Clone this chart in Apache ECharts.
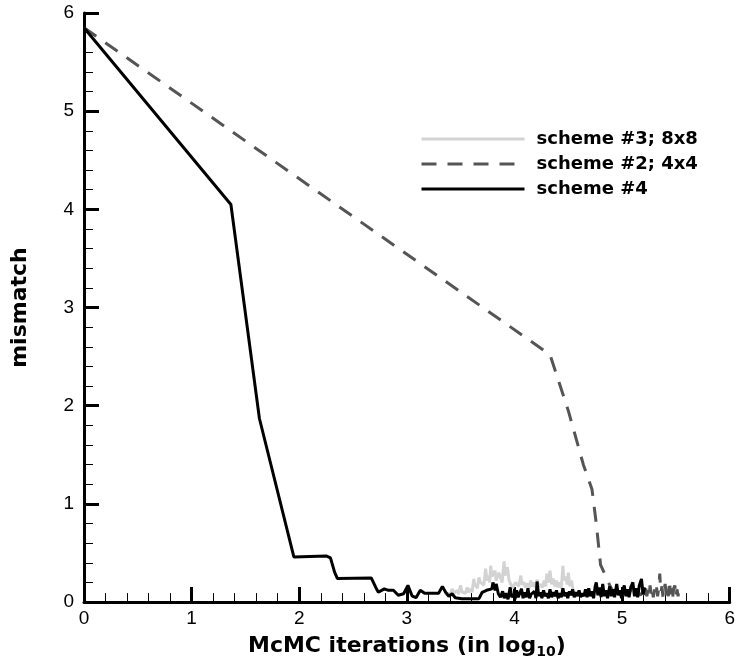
<!DOCTYPE html>
<html>
<head>
<meta charset="utf-8">
<script src="https://cdn.jsdelivr.net/npm/echarts@6/dist/echarts.min.js"></script>
<style>
  html, body { margin: 0; padding: 0; background: #fff; }
  #chart { width: 738px; height: 664px; }
</style>
</head>
<body>
<div id="chart"></div>
<script>
// scheme #4 (solid black)
var scheme4X = [0, 1.365, 1.63, 1.95, 2.25, 2.29, 2.33, 2.355, 2.67, 2.72, 2.735, 2.79, 2.83, 2.875, 2.92, 2.97, 3.01, 3.05, 3.085, 3.125, 3.165, 3.25, 3.295, 3.33, 3.36, 3.39, 3.42, 3.45, 3.51, 3.61, 3.67, 3.70, 3.74, 3.79, 3.80, 3.82, 3.83, 3.85,
  3.87, 3.89, 3.905, 3.92, 3.94, 3.96, 3.975, 3.99, 4.005, 4.02, 4.035, 4.05, 4.065, 4.08, 4.095, 4.11, 4.125, 4.14, 4.155, 4.17, 4.185, 4.2, 4.21, 4.225, 4.24, 4.255, 4.27, 4.285, 4.3, 4.315, 4.33, 4.345, 4.36, 4.375, 4.39, 4.405, 4.42, 4.435, 4.45, 4.465, 4.48, 4.495, 4.51, 4.525, 4.54, 4.555, 4.57, 4.585, 4.6, 4.615, 4.63, 4.645, 4.66, 4.675, 4.69, 4.705, 4.72, 4.735, 4.75, 4.76, 4.775, 4.79, 4.805, 4.82, 4.835, 4.85, 4.865, 4.885, 4.9, 4.915, 4.93, 4.95, 4.965, 4.98, 4.995, 5.02, 5.035, 5.05, 5.065, 5.08, 5.1, 5.115, 5.13, 5.145, 5.16, 5.18, 5.195, 5.21];
var scheme4Y = [5.85, 4.05, 1.87, 0.46, 0.47, 0.45, 0.30, 0.24, 0.245, 0.13, 0.10, 0.135, 0.12, 0.12, 0.07, 0.085, 0.17, 0.06, 0.045, 0.12, 0.09, 0.09, 0.09, 0.16, 0.10, 0.06, 0.085, 0.045, 0.035, 0.035, 0.035, 0.10, 0.12, 0.135, 0.20, 0.12, 0.185, 0.085,
  0.05, 0.11, 0.04, 0.09, 0.03, 0.15, 0.05, 0.08, 0.03, 0.12, 0.05, 0.09, 0.135, 0.04, 0.10, 0.05, 0.14, 0.04, 0.08, 0.06, 0.11, 0.04, 0.21, 0.06, 0.10, 0.04, 0.12, 0.06, 0.09, 0.04, 0.13, 0.05, 0.10, 0.06, 0.12, 0.04, 0.09, 0.05, 0.14, 0.06, 0.10, 0.04, 0.11, 0.07, 0.13, 0.05, 0.10, 0.06, 0.12, 0.05, 0.09, 0.06, 0.13, 0.05, 0.14, 0.06, 0.11, 0.04, 0.16, 0.20, 0.07, 0.15, 0.05, 0.185, 0.06, 0.12, 0.04, 0.16, 0.06, 0.13, 0.05, 0.185, 0.07, 0.12, 0.04, 0.17, 0.06, 0.13, 0.05, 0.15, 0.20, 0.06, 0.14, 0.05, 0.17, 0.235, 0.08, 0.15];

// scheme #2; 4x4 (dashed dark grey)
var scheme2X = [0, 4.33, 4.5, 4.64, 4.72, 4.76, 4.8, 4.89, 4.93, 4.96, 4.99, 5.02, 5.05, 5.08, 5.11, 5.14, 5.17, 5.2, 5.21, 5.22, 5.23, 5.24, 5.25, 5.26, 5.27, 5.28, 5.29, 5.30, 5.31, 5.32, 5.33, 5.34, 5.35, 5.36, 5.37, 5.38, 5.39, 5.40, 5.41, 5.42, 5.43, 5.44, 5.45, 5.46, 5.47, 5.48, 5.49, 5.50, 5.51, 5.52, 5.53, 5.54];
var scheme2Y = [5.85, 2.52, 1.95, 1.4, 1.15, 0.8, 0.38, 0.16, 0.08, 0.12, 0.06, 0.10, 0.07, 0.12, 0.06, 0.10, 0.07, 0.12, 0.05, 0.14, 0.06, 0.12, 0.05, 0.17, 0.06, 0.12, 0.05, 0.13, 0.07, 0.15, 0.06, 0.14, 0.29, 0.10, 0.16, 0.05, 0.13, 0.185, 0.07, 0.15, 0.06, 0.22, 0.08, 0.15, 0.05, 0.14, 0.17, 0.05, 0.13, 0.06, 0.14, 0.15];

// scheme #3; 8x8 (light grey)
var scheme3X = [3.37, 3.39, 3.405, 3.42, 3.44, 3.467, 3.48, 3.498, 3.515, 3.53, 3.545, 3.561, 3.575, 3.592, 3.605, 3.623, 3.632, 3.639, 3.655, 3.67, 3.685, 3.70, 3.715, 3.732, 3.745, 3.757, 3.77, 3.779, 3.79, 3.80, 3.819, 3.83, 3.841, 3.855, 3.872, 3.885, 3.903, 3.912, 3.919, 3.935, 3.95, 3.966, 3.98, 3.997, 4.01, 4.028, 4.04, 4.059, 4.07, 4.09, 4.10, 4.12, 4.135, 4.15, 4.165, 4.18, 4.195, 4.21, 4.22, 4.24, 4.26, 4.275, 4.29, 4.30, 4.315, 4.33, 4.345, 4.36, 4.375, 4.39, 4.405, 4.42, 4.435, 4.45, 4.46, 4.475, 4.49, 4.50, 4.515, 4.53, 4.545, 4.56];
var scheme3Y = [0.06, 0.095, 0.07, 0.135, 0.09, 0.12, 0.08, 0.17, 0.10, 0.12, 0.09, 0.15, 0.10, 0.135, 0.10, 0.235, 0.16, 0.185, 0.14, 0.25, 0.20, 0.22, 0.17, 0.34, 0.22, 0.27, 0.20, 0.37, 0.26, 0.28, 0.32, 0.22, 0.21, 0.30, 0.29, 0.20, 0.415, 0.27, 0.28, 0.355, 0.22, 0.18, 0.14, 0.15, 0.20, 0.22, 0.16, 0.27, 0.18, 0.20, 0.15, 0.19, 0.14, 0.22, 0.16, 0.20, 0.15, 0.23, 0.16, 0.18, 0.15, 0.22, 0.16, 0.29, 0.20, 0.32, 0.18, 0.24, 0.16, 0.22, 0.15, 0.20, 0.14, 0.37, 0.22, 0.26, 0.18, 0.30, 0.16, 0.22, 0.12, 0.10];

var axisTicks = [0, 1, 2, 3, 4, 5, 6];
var legendNames = ['scheme #3; 8x8', 'scheme #2; 4x4', 'scheme #4'];

function pairs(xs, ys) {
  var out = [];
  for (var i = 0; i < xs.length; i++) out.push([xs[i], ys[i]]);
  return out;
}

var myChart = echarts.init(document.getElementById('chart'));

var boldFont = '"DejaVu Sans", sans-serif';
var tickFont = '"Liberation Sans", Arial, sans-serif';

function axisCommon() {
  return {
    type: 'value',
    min: axisTicks[0],
    max: axisTicks[axisTicks.length - 1],
    interval: 1,
    axisLine: { show: true, lineStyle: { color: '#000', width: 3 } },
    axisTick: { show: true, inside: true, length: 15, lineStyle: { color: '#000', width: 3 } },
    minorTick: { show: true, splitNumber: 5, length: 9, lineStyle: { color: '#000', width: 1 } },
    splitLine: { show: false },
    axisLabel: { color: '#000', fontFamily: tickFont, fontSize: 19 }
  };
}

var xAxis = axisCommon();
xAxis.name = 'McMC iterations (in log{sub|10})';
xAxis.nameLocation = 'middle';
xAxis.nameGap = 27;
xAxis.axisLabel.margin = 7;
xAxis.nameTextStyle = {
  color: '#000', fontFamily: boldFont, fontWeight: 'bold', fontSize: 22,
  verticalAlign: 'top', lineHeight: 26,
  rich: {
    sub: { fontFamily: boldFont, fontWeight: 'bold', fontSize: 14, color: '#000', verticalAlign: 'bottom', lineHeight: 14, padding: [12, 0, 0, 0] }
  }
};

var yAxis = axisCommon();
yAxis.name = 'mismatch';
yAxis.nameLocation = 'middle';
yAxis.nameGap = 53;
yAxis.axisLabel.margin = 10;
yAxis.nameTextStyle = { color: '#000', fontFamily: boldFont, fontWeight: 'bold', fontSize: 22 };

var option = {
  animation: false,
  backgroundColor: '#fff',
  grid: { left: 84, right: 7, top: 13, bottom: 59 },
  xAxis: xAxis,
  yAxis: yAxis,
  legend: {
    orient: 'vertical',
    left: 415,
    top: 125,
    itemWidth: 103,
    itemHeight: 18,
    itemGap: 7,
    itemStyle: { opacity: 0 },
    lineStyle: { width: 3 },
    data: legendNames,
    textStyle: { color: '#000', fontFamily: boldFont, fontWeight: 'bold', fontSize: 18, padding: [0, 0, 0, 7] }
  },
  series: [
    {
      name: legendNames[0],
      type: 'line',
      symbol: 'none',
      data: pairs(scheme3X, scheme3Y),
      lineStyle: { color: '#d3d3d3', width: 3 },
      itemStyle: { color: '#d3d3d3' }
    },
    {
      name: legendNames[1],
      type: 'line',
      symbol: 'none',
      data: pairs(scheme2X, scheme2Y),
      lineStyle: { color: '#555', width: 3, type: [15, 11] },
      itemStyle: { color: '#555' }
    },
    {
      name: legendNames[2],
      type: 'line',
      symbol: 'none',
      data: pairs(scheme4X, scheme4Y),
      lineStyle: { color: '#000', width: 3 },
      itemStyle: { color: '#000' }
    }
  ]
};

myChart.setOption(option);
</script>
</body>
</html>
